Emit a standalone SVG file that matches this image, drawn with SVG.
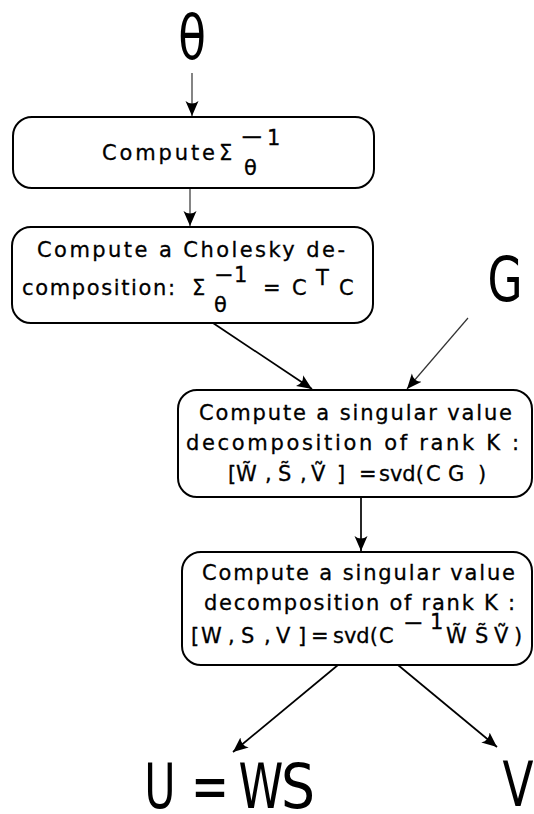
<svg xmlns="http://www.w3.org/2000/svg" width="534" height="814" viewBox="0 0 534 814">
<style>
  .box { fill: #ffffff; stroke: #000000; stroke-width: 2; }
  .t { font-family: "DejaVu Sans", "Liberation Sans", sans-serif; font-size: 21px; fill: #000000; stroke: #000000; stroke-width: 0.3; }
  .big { font-family: "DejaVu Sans", "Liberation Sans", sans-serif; font-size: 63px; fill: #000000; text-anchor: middle; }
  .thin { fill: none; stroke: #333333; stroke-width: 1.2; }
  .thick { fill: none; stroke: #000000; stroke-width: 1.7; }
</style>
<defs>
  <marker id="ah" markerUnits="userSpaceOnUse" markerWidth="16" markerHeight="14" refX="15" refY="7" orient="auto">
    <path d="M15,7 L0,0.5 Q5,7 0,13.5 Z" fill="#000000"/>
  </marker>
</defs>
<rect width="534" height="814" fill="#ffffff"/>

<g id="connectors">
  <line class="thin" x1="192" y1="73" x2="192" y2="116" marker-end="url(#ah)"/>
  <line class="thin" x1="190" y1="189" x2="190" y2="226" marker-end="url(#ah)"/>
  <line class="thick" x1="213" y1="323" x2="312" y2="389" marker-end="url(#ah)"/>
  <line class="thin" x1="468" y1="318" x2="407" y2="389" marker-end="url(#ah)"/>
  <line class="thick" x1="361" y1="497" x2="361" y2="551" marker-end="url(#ah)"/>
  <line class="thick" x1="338" y1="665" x2="233" y2="752" marker-end="url(#ah)"/>
  <line class="thick" x1="398" y1="665" x2="497" y2="747" marker-end="url(#ah)"/>
</g>

<g id="theta">
  <text class="big" transform="translate(192,59) scale(0.72,1)" font-size="66">θ</text>
</g>

<g id="G">
  <text class="big" transform="translate(505,301) scale(0.72,1)">G</text>
</g>

<g id="box1">
  <rect class="box" x="13" y="117" width="361" height="71" rx="19"/>
  <text class="t" x="102" y="160" textLength="113" lengthAdjust="spacing">Compute</text>
  <text class="t" x="219" y="160">Σ</text>
  <text class="t" x="244" y="175">θ</text>
  <text class="t" x="240" y="144" textLength="24" lengthAdjust="spacingAndGlyphs">−</text>
  <text class="t" x="267" y="145">1</text>
</g>

<g id="box2">
  <rect class="box" x="12" y="227" width="361" height="96" rx="19"/>
  <text class="t" x="37" y="257" textLength="308" lengthAdjust="spacing">Compute a Cholesky de-</text>
  <text class="t" x="22" y="295" textLength="153" lengthAdjust="spacing">composition:</text>
  <text class="t" x="192" y="295">Σ</text>
  <text class="t" x="214" y="312">θ</text>
  <text class="t" x="214" y="282" textLength="20" lengthAdjust="spacingAndGlyphs">−</text>
  <text class="t" x="234" y="282">1</text>
  <text class="t" x="263" y="295">=</text>
  <text class="t" x="292" y="295">C</text>
  <text class="t" x="316" y="285">T</text>
  <text class="t" x="339" y="295">C</text>
</g>

<g id="box3">
  <rect class="box" x="178" y="390" width="354" height="107" rx="19"/>
  <text class="t" x="199" y="420" textLength="313" lengthAdjust="spacing">Compute a singular value</text>
  <text class="t" x="186" y="450" textLength="333" lengthAdjust="spacing">decomposition of rank K :</text>
  <text class="t" y="481"><tspan x="228">[</tspan><tspan x="236">W̃</tspan><tspan x="265">,</tspan><tspan x="278">S̃</tspan><tspan x="300">,</tspan><tspan x="311">Ṽ</tspan><tspan x="337">]</tspan><tspan x="359">=</tspan><tspan x="379">svd(</tspan><tspan x="426">C</tspan><tspan x="448">G</tspan><tspan x="478">)</tspan></text>
</g>

<g id="box4">
  <rect class="box" x="182" y="552" width="350" height="113" rx="19"/>
  <text class="t" x="202" y="580" textLength="313" lengthAdjust="spacing">Compute a singular value</text>
  <text class="t" x="204" y="610" textLength="311" lengthAdjust="spacing">decomposition of rank K :</text>
  <text class="t" y="643"><tspan x="191">[</tspan><tspan x="201">W</tspan><tspan x="228">,</tspan><tspan x="241">S</tspan><tspan x="264">,</tspan><tspan x="276">V</tspan><tspan x="298">]</tspan><tspan x="311">=</tspan><tspan x="333">svd(</tspan><tspan x="379">C</tspan></text>
  <text class="t" x="403" y="630" textLength="21" lengthAdjust="spacingAndGlyphs">−</text>
  <text class="t" x="430" y="629">1</text>
  <text class="t" y="643"><tspan x="446">W̃</tspan><tspan x="475">S̃</tspan><tspan x="494">Ṽ</tspan><tspan x="514">)</tspan></text>
</g>

<g id="U">
  <text class="big" transform="translate(160,808) scale(0.68,1)">U</text>
  <text class="big" transform="translate(210,808) scale(0.72,1)">=</text>
  <text class="big" transform="translate(261,808) scale(0.72,1)">W</text>
  <text class="big" transform="translate(298,808) scale(0.85,1)">S</text>
</g>

<g id="V">
  <text class="big" transform="translate(518,806) scale(0.72,1)">V</text>
</g>
</svg>
